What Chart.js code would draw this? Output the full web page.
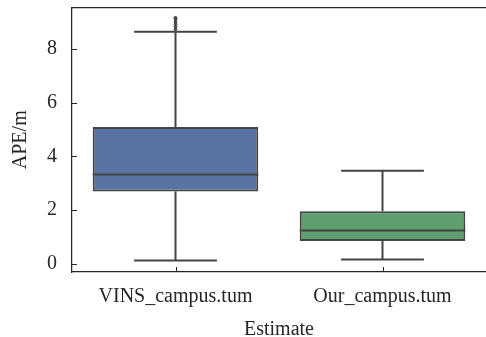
<!DOCTYPE html>
<html>
<head>
<meta charset="utf-8">
<script src="https://cdn.jsdelivr.net/npm/chart.js@4/dist/chart.umd.min.js"></script>
<style>
  html, body { margin: 0; padding: 0; background: #fff; }
  #wrap { width: 486px; height: 337px; }
</style>
</head>
<body>
<div id="wrap"><canvas id="boxChart" width="486" height="337"></canvas></div>
<script>
// box plot data
const categories = ["VINS_campus.tum", "Our_campus.tum"];
const lowerWhisker = [0.12, 0.16];
const q1 = [2.69, 0.84];
const median = [3.32, 1.24];
const q3 = [5.09, 1.95];
const upperWhisker = [8.64, 3.46];
const outliersVins = [8.72, 8.78, 8.84, 8.9, 8.96, 9.02, 9.08, 9.13, 9.17];
const yTicks = [0, 2, 4, 6, 8];

const boxColors = ["#5874a3", "#5f9e6e"];
const lineColor = "#444444";
const axisColor = "#262626";
const textColor = "#262626";

// whiskers, caps, median lines and inward tick marks
const boxExtras = {
  id: "boxExtras",
  afterDatasetsDraw(chart) {
    const ctx = chart.ctx;
    const x = chart.scales.x;
    const y = chart.scales.y;
    const meta = chart.getDatasetMeta(0);
    ctx.save();
    ctx.strokeStyle = lineColor;
    ctx.lineWidth = 2;
    categories.forEach((c, i) => {
      const cx = x.getPixelForValue(i);
      const bw = meta.data[i].width;
      const capHalf = bw / 4;
      const boxHalf = bw / 2;
      ctx.beginPath();
      // whiskers
      ctx.moveTo(cx, y.getPixelForValue(q3[i]));
      ctx.lineTo(cx, y.getPixelForValue(upperWhisker[i]));
      ctx.moveTo(cx, y.getPixelForValue(q1[i]));
      ctx.lineTo(cx, y.getPixelForValue(lowerWhisker[i]));
      // caps
      ctx.moveTo(cx - capHalf, y.getPixelForValue(upperWhisker[i]));
      ctx.lineTo(cx + capHalf, y.getPixelForValue(upperWhisker[i]));
      ctx.moveTo(cx - capHalf, y.getPixelForValue(lowerWhisker[i]));
      ctx.lineTo(cx + capHalf, y.getPixelForValue(lowerWhisker[i]));
      // median
      ctx.moveTo(cx - boxHalf, y.getPixelForValue(median[i]));
      ctx.lineTo(cx + boxHalf, y.getPixelForValue(median[i]));
      ctx.stroke();
    });
    ctx.restore();
  },
  afterDraw(chart) {
    const ctx = chart.ctx;
    const x = chart.scales.x;
    const y = chart.scales.y;
    const area = chart.chartArea;
    ctx.save();
    ctx.strokeStyle = axisColor;
    // top frame line
    ctx.lineWidth = 1.25;
    ctx.beginPath();
    ctx.moveTo(area.left, area.top);
    ctx.lineTo(chart.width, area.top);
    ctx.stroke();
    // inward tick marks
    ctx.lineWidth = 1;
    ctx.beginPath();
    yTicks.forEach((v) => {
      const py = Math.round(y.getPixelForValue(v)) + 0.5;
      ctx.moveTo(area.left, py);
      ctx.lineTo(area.left + 5, py);
    });
    categories.forEach((c, i) => {
      const px = Math.round(x.getPixelForValue(i)) + 0.5;
      ctx.moveTo(px, area.bottom);
      ctx.lineTo(px, area.bottom - 5);
    });
    ctx.stroke();
    ctx.restore();
  }
};

const fontSpec = { family: "'Liberation Serif', 'Times New Roman', serif", size: 20 };

new Chart(document.getElementById("boxChart").getContext("2d"), {
  type: "bar",
  data: {
    labels: categories,
    datasets: [
      {
        label: "box",
        data: categories.map((c, i) => [q1[i], q3[i]]),
        backgroundColor: boxColors,
        borderColor: lineColor,
        borderWidth: 2,
        borderSkipped: false,
        barPercentage: 0.8,
        categoryPercentage: 1.0
      },
      {
        type: "line",
        label: "outliers",
        data: outliersVins.map((v) => ({ x: categories[0], y: v })),
        showLine: false,
        pointRadius: 1.5,
        pointStyle: "rectRot",
        pointBackgroundColor: lineColor,
        pointBorderColor: lineColor,
        pointBorderWidth: 1
      }
    ]
  },
  options: {
    responsive: false,
    animation: false,
    layout: { autoPadding: false, padding: { top: 7.5, right: 0, bottom: 0, left: 0 } },
    plugins: {
      legend: { display: false },
      tooltip: { enabled: false }
    },
    scales: {
      x: {
        offset: true,
        grid: { display: false, drawTicks: false },
        border: { display: true, color: axisColor, width: 1.25 },
        ticks: { color: textColor, font: fontSpec, padding: 13, maxRotation: 0 },
        title: {
          display: true,
          text: "Estimate",
          color: textColor,
          font: { ...fontSpec, lineHeight: 0.8 },
          padding: { top: 0, bottom: -1 }
        },
        afterFit(scale) {
          scale.height = 65;
          scale.paddingLeft = 0;
          scale.paddingRight = 0;
        }
      },
      y: {
        min: -0.31,
        max: 9.54,
        grid: { display: false, drawTicks: false },
        border: { display: true, color: axisColor, width: 1.25 },
        ticks: { color: textColor, font: fontSpec, padding: 15 },
        afterBuildTicks(scale) { scale.ticks = yTicks.map((v) => ({ value: v })); },
        title: {
          display: true,
          text: "APE/m",
          color: textColor,
          font: fontSpec,
          padding: { top: 9, bottom: 0 }
        },
        afterFit(scale) {
          scale.width = 72;
          scale.paddingTop = 0;
          scale.paddingBottom = 0;
        }
      }
    }
  },
  plugins: [boxExtras]
});
</script>
</body>
</html>
